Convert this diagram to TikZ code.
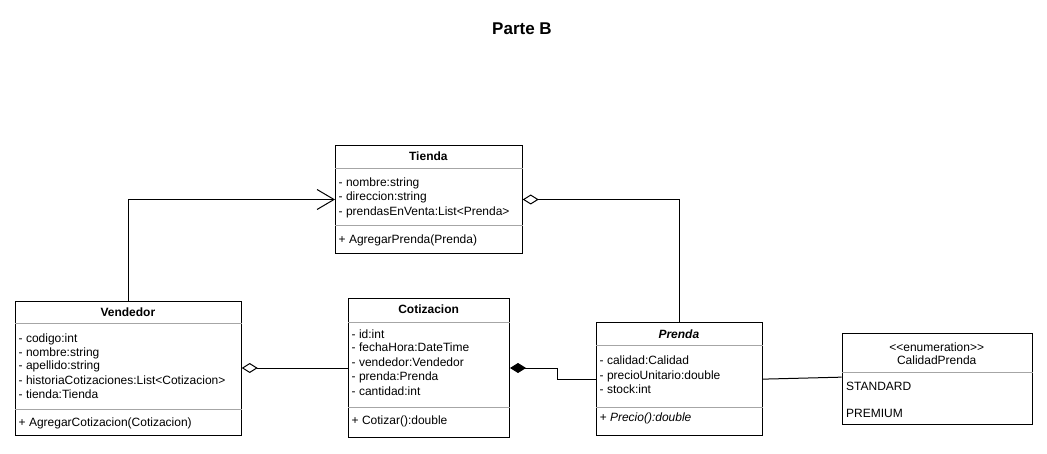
\documentclass[tikz,border=0pt]{standalone}
\usepackage{fontspec}
\newfontfamily\uml{Liberation Sans}
\usetikzlibrary{arrows.meta}
\begin{document}
\begin{tikzpicture}[x=1pt,y=-1pt,
  box/.style={draw=black,line width=1pt,inner sep=0pt,anchor=north west,fill=white},
  sep/.style={draw=black!35,line width=1pt},
  attr/.style={anchor=base west,inner sep=0pt,font=\uml\fontsize{12}{14}\selectfont},
  ttl/.style={anchor=base,inner sep=0pt,font=\uml\fontsize{12}{14}\selectfont\bfseries},
  etl/.style={anchor=base,inner sep=0pt,font=\uml\fontsize{12}{14}\selectfont},
  conn/.style={draw=black,line width=1pt},
  agg/.style={-{Diamond[open,length=16pt,width=10pt]}},
  comp/.style={-{Diamond[length=16pt,width=10pt]}},
  assoc/.style={-{Straight Barb[length=17pt,width=20pt]}}]
\path[fill=white] (0,0) rectangle (1047,454);
\node[anchor=base,inner sep=0pt,font=\uml\fontsize{17}{20}\selectfont\bfseries] (title) at (522,35) {Parte B};

% Tienda
\node[box,minimum width=186.7pt,minimum height=108pt] (tienda) at (335,145) {};
\draw[sep] ([yshift=-24pt]tienda.north west) -- ([yshift=-24pt]tienda.north east);
\draw[sep] ([yshift=-81pt]tienda.north west) -- ([yshift=-81pt]tienda.north east);
\node[ttl] (t0) at (428.35,161) {Tienda};
\node[attr] (t1) at (338.5,186.7) {- nombre:string};
\node[attr] (t2) at (338.5,201) {- direccion:string};
\node[attr] (t3) at (338.5,215.5) {- prendasEnVenta:List<Prenda>};
\node[attr] (t4) at (338.5,244) {+ AgregarPrenda(Prenda)};

% Vendedor
\node[box,minimum width=225.7pt,minimum height=134.3pt] (vend) at (15,300.7) {};
\draw[sep] ([yshift=-23.3pt]vend.north west) -- ([yshift=-23.3pt]vend.north east);
\draw[sep] ([yshift=-108.3pt]vend.north west) -- ([yshift=-108.3pt]vend.north east);
\node[ttl] (v0) at (127.85,316.3) {Vendedor};
\node[attr] (v1) at (18.5,342) {- codigo:int};
\node[attr] (v2) at (18.5,356) {- nombre:string};
\node[attr] (v3) at (18.5,370) {- apellido:string};
\node[attr] (v4) at (18.5,384) {- historiaCotizaciones:List<Cotizacion>};
\node[attr] (v5) at (18.5,398) {- tienda:Tienda};
\node[attr] (v6) at (18.5,426.7) {+ AgregarCotizacion(Cotizacion)};

% Cotizacion
\node[box,minimum width=160.7pt,minimum height=138.4pt] (coti) at (348.3,298.3) {};
\draw[sep] ([yshift=-24pt]coti.north west) -- ([yshift=-24pt]coti.north east);
\draw[sep] ([yshift=-109pt]coti.north west) -- ([yshift=-109pt]coti.north east);
\node[ttl] (c0) at (428.65,314) {Cotizacion};
\node[attr] (c1) at (351.5,338) {- id:int};
\node[attr] (c2) at (351.5,352) {- fechaHora:DateTime};
\node[attr] (c3) at (351.5,366.7) {- vendedor:Vendedor};
\node[attr] (c4) at (351.5,381) {- prenda:Prenda};
\node[attr] (c5) at (351.5,395) {- cantidad:int};
\node[attr] (c6) at (351.5,424) {+ Cotizar():double};

% Prenda
\node[box,minimum width=165.7pt,minimum height=112.7pt] (prenda) at (596,322.3) {};
\draw[sep] ([yshift=-23.7pt]prenda.north west) -- ([yshift=-23.7pt]prenda.north east);
\draw[sep] ([yshift=-84.7pt]prenda.north west) -- ([yshift=-84.7pt]prenda.north east);
\node[ttl,font=\uml\fontsize{12}{14}\selectfont\bfseries\itshape] (p0) at (678.85,338.3) {Prenda};
\node[attr] (p1) at (599.5,364.7) {- calidad:Calidad};
\node[attr] (p2) at (599.5,379) {- precioUnitario:double};
\node[attr] (p3) at (599.5,393) {- stock:int};
\node[attr,font=\uml\fontsize{12}{14}\selectfont\itshape] (p4) at (599.5,421.7) {+ Precio():double};

% CalidadPrenda
\node[box,minimum width=190pt,minimum height=90.7pt] (enum) at (841.7,333.3) {};
\draw[sep] ([yshift=-39.4pt]enum.north west) -- ([yshift=-39.4pt]enum.north east);
\node[etl] (e0) at (936.7,351.7) {<\kern0pt<enumeration>\kern0pt>};
\node[etl] (e1) at (936.7,364) {CalidadPrenda};
\node[attr] (e2) at (846,390.7) {STANDARD};
\node[attr] (e3) at (846,417.3) {PREMIUM};

% connectors
\coordinate (j) at (557.3,0);
\draw[conn,assoc] (vend.north) |- (tienda.west);
\draw[conn,agg] (prenda.north) |- (tienda.east);
\draw[conn,agg] (coti.west) -- (coti.west -| vend.east);
\draw[conn,comp] (prenda.west) -- (prenda.west -| j) -- (j |- coti.east) -- (coti.east);
\draw[conn] (prenda.east) -- ([yshift=2pt]enum.west);
\end{tikzpicture}
\end{document}
